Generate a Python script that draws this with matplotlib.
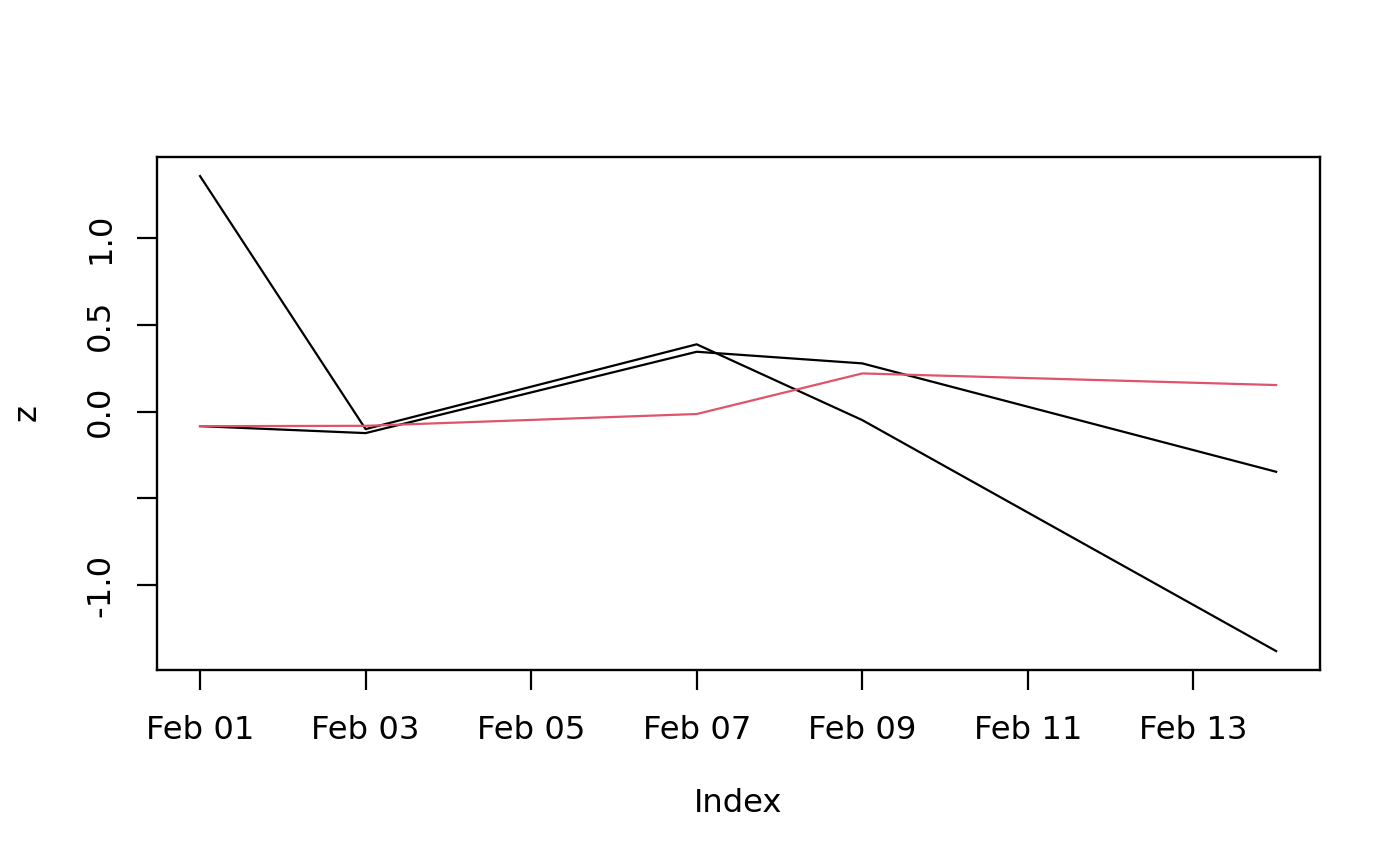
import numpy as np
import matplotlib
matplotlib.use("Agg")
import matplotlib.pyplot as plt
import matplotlib.dates as mdates
from datetime import datetime

# данные
dates = ["2000-02-01", "2000-02-03", "2000-02-07", "2000-02-09", "2000-02-14"]
series_a = [1.358, -0.101, 0.388, -0.049, -1.381]
series_b = [-0.084, -0.124, 0.345, 0.278, -0.347]
series_c = [-0.084, -0.082, -0.014, 0.220, 0.153]
series_colors = ["black", "black", "#DF536B"]
tick_dates = ["2000-02-01", "2000-02-03", "2000-02-05", "2000-02-07",
              "2000-02-09", "2000-02-11", "2000-02-13"]
y_ticks = [-1.0, -0.5, 0.0, 0.5, 1.0]
y_ticklabels = ["-1.0", "", "0.0", "0.5", "1.0"]

xs = [datetime.strptime(d, "%Y-%m-%d") for d in dates]
xt = [datetime.strptime(d, "%Y-%m-%d") for d in tick_dates]

fs = 11.6
plt.rcParams['font.family'] = ['DejaVu Sans']
plt.rcParams['font.size'] = fs

fig = plt.figure(figsize=(7, 4.33), dpi=200)
ax = fig.add_axes([157/1400, 1 - 670/866, (1320-157)/1400, (670-157)/866])

for ys, c in zip([series_a, series_b, series_c], series_colors):
    ax.plot(xs, ys, color=c, lw=0.8)

ax.set_xlim(mdates.date2num(xs[0]) - 0.52, mdates.date2num(xs[-1]) + 0.53)
ax.set_ylim(-1.49, 1.468)
ax.set_xticks(xt)
ax.xaxis.set_major_formatter(mdates.DateFormatter("%b %d"))
ax.set_yticks(y_ticks)
ax.set_yticklabels(y_ticklabels, rotation=90, va="center")

for s in ax.spines.values():
    s.set_linewidth(0.85)
ax.tick_params(axis='both', direction='out', length=7.2, width=0.8, labelsize=fs)
ax.tick_params(axis='x', pad=9.0)
ax.tick_params(axis='y', pad=7.5)

fig.text(738/1400, 1 - 803/866, "Index", ha="center", va="center", fontsize=fs)
fig.text(27/1400, 1 - 413/866, "z", ha="center", va="center", rotation=90, fontsize=fs)

fig.savefig("out.png", dpi=200)
